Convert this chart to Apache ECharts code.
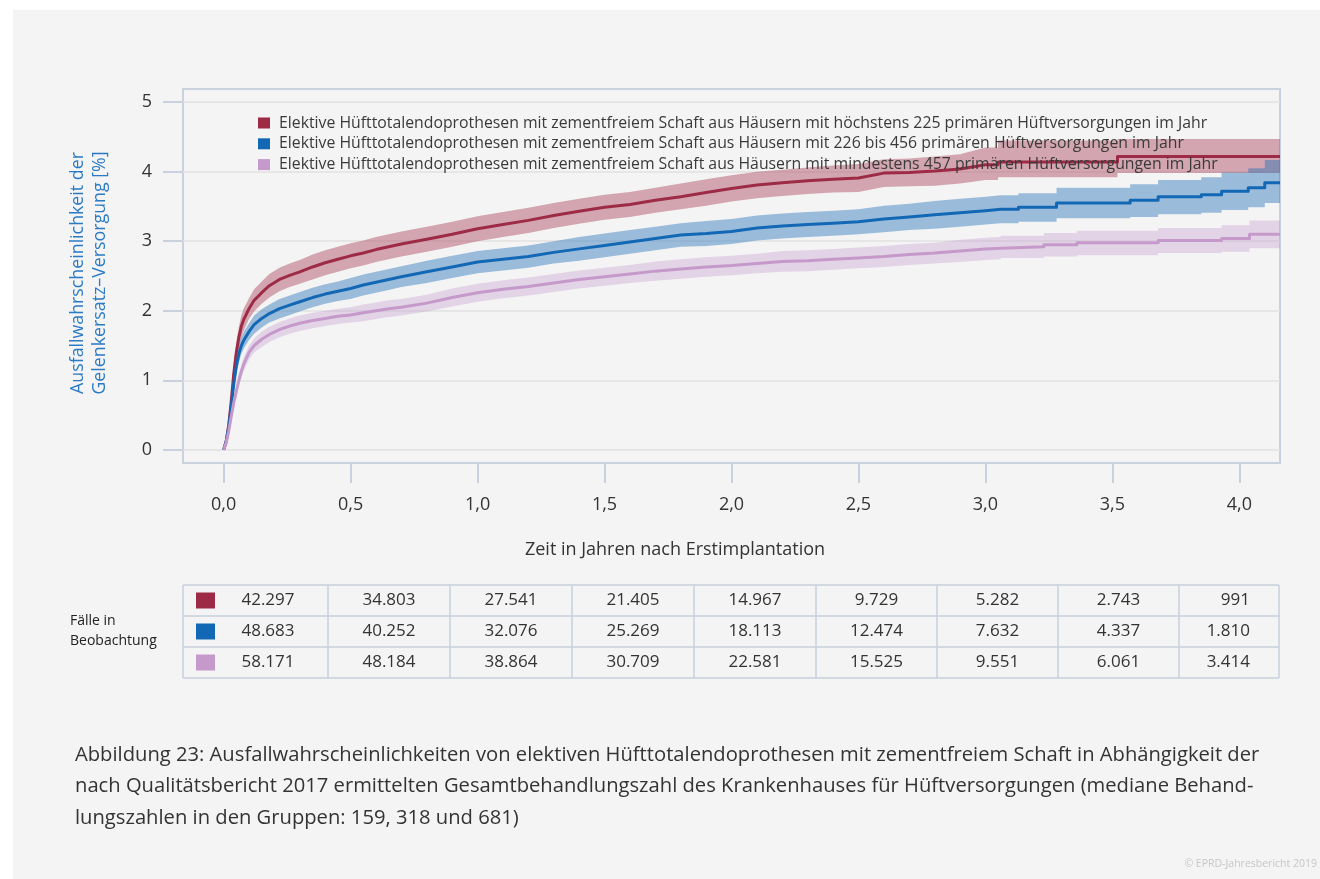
<!DOCTYPE html>
<html>
<head>
<meta charset="utf-8">
<script src="https://cdn.jsdelivr.net/npm/echarts@6/dist/echarts.min.js"></script>
<style>
  html, body { margin: 0; padding: 0; background: #fff; }
  #chart {
    width: 1320px; height: 879px;
    background: linear-gradient(#f4f4f4, #f4f4f4) 13px 10px / 1307px 869px no-repeat, #fff;
  }
</style>
</head>
<body>
<div id="chart"></div>
<script>
  // Jahre nach Erstimplantation, gemeinsamer Teil bis 3,0 Jahre
  const baseYears = [0, 0.01, 0.02, 0.03, 0.04, 0.05, 0.06, 0.07, 0.08, 0.10,
    0.12, 0.15, 0.18, 0.22, 0.26, 0.30, 0.35, 0.40, 0.45, 0.50,
    0.55, 0.60, 0.65, 0.70, 0.80, 0.90, 1.00, 1.10, 1.20, 1.30,
    1.40, 1.50, 1.60, 1.70, 1.80, 1.90, 2.00, 2.10, 2.20, 2.30,
    2.40, 2.50, 2.60, 2.70, 2.80, 2.90, 3.00]

  // höchstens 225 Versorgungen
  const lowRisk = [0, 0.12, 0.35, 0.70, 1.10, 1.40, 1.62, 1.78, 1.88, 2.03,
    2.15, 2.26, 2.36, 2.45, 2.51, 2.56, 2.63, 2.69, 2.74, 2.79,
    2.83, 2.88, 2.92, 2.96, 3.03, 3.10, 3.18, 3.24, 3.30, 3.37,
    3.43, 3.49, 3.53, 3.59, 3.64, 3.70, 3.76, 3.81, 3.84, 3.87,
    3.89, 3.91, 3.98, 3.99, 4.01, 4.04, 4.10]
  const lowLower = [0, 0.08, 0.26, 0.58, 0.96, 1.25, 1.47, 1.62, 1.72, 1.88,
    1.99, 2.10, 2.19, 2.28, 2.34, 2.39, 2.45, 2.51, 2.56, 2.61,
    2.65, 2.70, 2.74, 2.78, 2.85, 2.92, 3.00, 3.06, 3.12, 3.19,
    3.25, 3.31, 3.35, 3.41, 3.46, 3.51, 3.57, 3.62, 3.65, 3.68,
    3.70, 3.71, 3.78, 3.79, 3.80, 3.83, 3.88]
  const lowUpper = [0, 0.16, 0.44, 0.82, 1.24, 1.55, 1.77, 1.94, 2.04, 2.18,
    2.31, 2.42, 2.53, 2.62, 2.68, 2.73, 2.81, 2.87, 2.92, 2.97,
    3.01, 3.06, 3.10, 3.14, 3.21, 3.28, 3.36, 3.42, 3.48, 3.55,
    3.61, 3.67, 3.71, 3.77, 3.83, 3.89, 3.95, 4.00, 4.03, 4.06,
    4.09, 4.11, 4.18, 4.19, 4.22, 4.25, 4.35]
  const lowTailYears = [3.05, 3.05, 3.52, 3.52, 4.16]
  const lowTailRisk = [4.10, 4.14, 4.14, 4.22, 4.22]
  const lowTailLower = [3.88, 3.92, 3.92, 3.98, 3.98]
  const lowTailUpper = [4.35, 4.45, 4.45, 4.47, 4.47]

  // 226 bis 456 Versorgungen
  const midRisk = [0, 0.12, 0.33, 0.62, 0.95, 1.20, 1.38, 1.50, 1.58, 1.70,
    1.80, 1.89, 1.96, 2.03, 2.08, 2.13, 2.19, 2.24, 2.28, 2.32,
    2.37, 2.41, 2.45, 2.49, 2.56, 2.63, 2.70, 2.74, 2.78, 2.84,
    2.89, 2.94, 2.99, 3.04, 3.09, 3.11, 3.14, 3.19, 3.22, 3.24,
    3.26, 3.28, 3.32, 3.35, 3.38, 3.41, 3.44]
  const midLower = [0, 0.09, 0.27, 0.54, 0.85, 1.09, 1.26, 1.38, 1.46, 1.58,
    1.67, 1.76, 1.83, 1.89, 1.94, 1.99, 2.05, 2.10, 2.14, 2.17,
    2.22, 2.26, 2.30, 2.34, 2.40, 2.47, 2.54, 2.58, 2.62, 2.68,
    2.72, 2.77, 2.82, 2.87, 2.92, 2.93, 2.96, 3.01, 3.04, 3.06,
    3.08, 3.10, 3.13, 3.16, 3.18, 3.21, 3.24]
  const midUpper = [0, 0.15, 0.39, 0.70, 1.05, 1.31, 1.50, 1.62, 1.70, 1.82,
    1.93, 2.02, 2.09, 2.17, 2.22, 2.27, 2.33, 2.38, 2.42, 2.47,
    2.52, 2.56, 2.60, 2.64, 2.72, 2.79, 2.86, 2.90, 2.94, 3.00,
    3.06, 3.11, 3.16, 3.21, 3.26, 3.29, 3.32, 3.37, 3.40, 3.42,
    3.44, 3.46, 3.51, 3.54, 3.58, 3.61, 3.64]
  const midTailYears = [3.06, 3.13, 3.13, 3.28, 3.28, 3.57, 3.57, 3.68, 3.68, 3.85,
    3.85, 3.93, 3.93, 4.035, 4.035, 4.10, 4.10, 4.16]
  const midTailRisk = [3.46, 3.46, 3.49, 3.49, 3.55, 3.55, 3.59, 3.59, 3.64, 3.64,
    3.67, 3.67, 3.72, 3.72, 3.77, 3.77, 3.84, 3.84]
  const midTailLower = [3.26, 3.26, 3.28, 3.28, 3.33, 3.33, 3.35, 3.35, 3.39, 3.39,
    3.41, 3.41, 3.45, 3.45, 3.49, 3.49, 3.55, 3.55]
  const midTailUpper = [3.66, 3.66, 3.69, 3.69, 3.77, 3.77, 3.82, 3.82, 3.88, 3.88,
    3.92, 3.92, 3.99, 3.99, 4.05, 4.05, 4.17, 4.17]

  // mindestens 457 Versorgungen
  const highRisk = [0, 0.10, 0.27, 0.48, 0.68, 0.84, 1.00, 1.13, 1.24, 1.40,
    1.50, 1.59, 1.66, 1.73, 1.78, 1.82, 1.86, 1.89, 1.92, 1.94,
    1.97, 2.00, 2.03, 2.05, 2.11, 2.19, 2.26, 2.31, 2.35, 2.40,
    2.45, 2.49, 2.53, 2.57, 2.60, 2.63, 2.65, 2.68, 2.71, 2.72,
    2.74, 2.76, 2.78, 2.81, 2.83, 2.86, 2.89]
  const highLower = [0, 0.07, 0.22, 0.42, 0.61, 0.76, 0.91, 1.04, 1.14, 1.30,
    1.40, 1.48, 1.55, 1.62, 1.67, 1.71, 1.75, 1.78, 1.81, 1.83,
    1.85, 1.88, 1.91, 1.93, 1.99, 2.06, 2.13, 2.18, 2.22, 2.27,
    2.32, 2.36, 2.40, 2.43, 2.46, 2.49, 2.51, 2.54, 2.56, 2.57,
    2.59, 2.61, 2.63, 2.66, 2.68, 2.70, 2.73]
  const highUpper = [0, 0.13, 0.32, 0.54, 0.75, 0.92, 1.09, 1.22, 1.34, 1.50,
    1.60, 1.70, 1.77, 1.84, 1.89, 1.93, 1.97, 2.00, 2.03, 2.05,
    2.09, 2.12, 2.15, 2.17, 2.23, 2.32, 2.39, 2.44, 2.48, 2.53,
    2.58, 2.62, 2.66, 2.71, 2.74, 2.77, 2.79, 2.82, 2.86, 2.87,
    2.89, 2.91, 2.93, 2.96, 2.98, 3.02, 3.05]
  const highTailYears = [3.06, 3.06, 3.23, 3.23, 3.36, 3.36, 3.68, 3.68, 3.93, 3.93, 4.04, 4.04, 4.16]
  const highTailRisk = [2.90, 2.92, 2.92, 2.95, 2.95, 2.98, 2.98, 3.01, 3.01, 3.04, 3.04, 3.10, 3.10]
  const highTailLower = [2.74, 2.76, 2.76, 2.78, 2.78, 2.80, 2.80, 2.83, 2.83, 2.85, 2.85, 2.90, 2.90]
  const highTailUpper = [3.06, 3.08, 3.08, 3.12, 3.12, 3.15, 3.15, 3.19, 3.19, 3.23, 3.23, 3.30, 3.30]

  // Fälle in Beobachtung
  const casesLow = ['42.297', '34.803', '27.541', '21.405', '14.967', '9.729', '5.282', '2.743', '991']
  const casesMid = ['48.683', '40.252', '32.076', '25.269', '18.113', '12.474', '7.632', '4.337', '1.810']
  const casesHigh = ['58.171', '48.184', '38.864', '30.709', '22.581', '15.525', '9.551', '6.061', '3.414']

  const xTicks = [0, 0.5, 1, 1.5, 2, 2.5, 3, 3.5, 4]
  const yTicks = [0, 1, 2, 3, 4, 5]

  const groupNames = [
    'Elektive Hüfttotalendoprothesen mit zementfreiem Schaft aus Häusern mit höchstens 225 primären Hüftversorgungen im Jahr',
    'Elektive Hüfttotalendoprothesen mit zementfreiem Schaft aus Häusern mit 226 bis 456 primären Hüftversorgungen im Jahr',
    'Elektive Hüfttotalendoprothesen mit zementfreiem Schaft aus Häusern mit mindestens 457 primären Hüftversorgungen im Jahr'
  ]

  const FONT = '"Open Sans"'
  const TXT = '#333333'
  const AXIS = '#c8d1dd'
  const lineColors = ['#9e2b46', '#1368b5', '#c59acb']
  const bandColors = ['rgba(160,48,74,0.4)', 'rgba(19,104,180,0.4)', 'rgba(196,150,202,0.35)']

  const groups = [
    { t: baseYears.concat(lowTailYears), v: lowRisk.concat(lowTailRisk),
      lo: lowLower.concat(lowTailLower), up: lowUpper.concat(lowTailUpper) },
    { t: baseYears.concat(midTailYears), v: midRisk.concat(midTailRisk),
      lo: midLower.concat(midTailLower), up: midUpper.concat(midTailUpper) },
    { t: baseYears.concat(highTailYears), v: highRisk.concat(highTailRisk),
      lo: highLower.concat(highTailLower), up: highUpper.concat(highTailUpper) }
  ]

  // Konfidenzband als Polygon
  function band (g, color) {
    return {
      type: 'custom',
      silent: true,
      z: 1,
      data: [[g.t[0], g.lo[0]]],
      encode: { x: 0, y: 1 },
      renderItem: function (params, api) {
        const pts = []
        for (let i = 0; i < g.t.length; i++) pts.push(api.coord([g.t[i], g.up[i]]))
        for (let i = g.t.length - 1; i >= 0; i--) pts.push(api.coord([g.t[i], g.lo[i]]))
        return { type: 'polygon', shape: { points: pts }, style: { fill: color } }
      }
    }
  }

  function curve (name, g, color) {
    return {
      type: 'line',
      name: name,
      showSymbol: false,
      z: 3,
      itemStyle: { color: color },
      lineStyle: { color: color, width: 3, join: 'round' },
      data: g.t.map((t, i) => [t, g.v[i]])
    }
  }

  // Tabelle
  const colEdges = [183, 328, 450, 572, 694, 816, 937, 1058, 1179, 1279]
  const rowEdges = [585, 616, 647, 678]
  const tableGraphics = []
  rowEdges.forEach(y => {
    tableGraphics.push({ type: 'line', shape: { x1: colEdges[0], y1: y, x2: colEdges[colEdges.length - 1], y2: y },
      style: { stroke: AXIS, lineWidth: 1.5 } })
  })
  colEdges.forEach(x => {
    tableGraphics.push({ type: 'line', shape: { x1: x, y1: rowEdges[0], x2: x, y2: rowEdges[3] },
      style: { stroke: AXIS, lineWidth: 1.5 } })
  })
  ;[casesLow, casesMid, casesHigh].forEach((row, r) => {
    const cy = (rowEdges[r] + rowEdges[r + 1]) / 2
    tableGraphics.push({ type: 'rect', shape: { x: 196, y: cy - 8, width: 19, height: 16 },
      style: { fill: lineColors[r] } })
    row.forEach((v, c) => {
      let x, align
      if (c === 0) { x = 268; align = 'center' }
      else if (c === row.length - 1) { x = 1250; align = 'right' }
      else { x = (colEdges[c] + colEdges[c + 1]) / 2; align = 'center' }
      tableGraphics.push({ type: 'text', x: x, y: cy,
        style: { text: v, font: '17px ' + FONT, fill: TXT, align: align, verticalAlign: 'middle' } })
    })
  })
  tableGraphics.push({ type: 'text', x: 70, y: 631,
    style: { text: 'Fälle in\nBeobachtung', font: '14px ' + FONT, fill: '#222', lineHeight: 20, verticalAlign: 'middle' } })

  const captionLines = [
    'Abbildung 23: Ausfallwahrscheinlichkeiten von elektiven Hüfttotalendoprothesen mit zementfreiem Schaft in Abhängigkeit der',
    'nach Qualitätsbericht 2017 ermittelten Gesamtbehandlungszahl des Krankenhauses für Hüftversorgungen (mediane Behand-',
    'lungszahlen in den Gruppen: 159, 318 und 681)'
  ]

  const myChart = echarts.init(document.getElementById('chart'), null, { renderer: 'canvas' })
  myChart.setOption({
    animation: false,
    backgroundColor: 'transparent',
    textStyle: { fontFamily: FONT },
    grid: {
      left: 183, right: 40, top: 89, bottom: 416,
      show: true, borderColor: AXIS, borderWidth: 2, backgroundColor: 'transparent'
    },
    legend: {
      data: groupNames,
      orient: 'vertical',
      left: 253, top: 110,
      itemWidth: 12, itemHeight: 11, itemGap: 4.8,
      icon: 'rect',
      selectedMode: false,
      textStyle: { fontSize: 15.8, color: '#3a3a3a', fontFamily: FONT, lineHeight: 13, padding: [0, 0, 0, 4] }
    },
    xAxis: {
      type: 'value',
      min: -0.16, max: 4.16,
      axisLine: { show: false, onZero: false },
      axisTick: { show: true, length: 20, customValues: xTicks, lineStyle: { color: AXIS, width: 2 } },
      axisLabel: { customValues: xTicks, margin: 33, fontSize: 18, color: TXT, fontFamily: FONT,
        formatter: v => v.toFixed(1).replace('.', ',') },
      splitLine: { show: false }
    },
    yAxis: {
      type: 'value',
      min: -0.19, max: 5.19,
      axisLine: { show: false, onZero: false },
      axisTick: { show: true, length: 20, customValues: yTicks, lineStyle: { color: AXIS, width: 2 } },
      axisLabel: { customValues: yTicks, margin: 31, fontSize: 18, color: TXT, fontFamily: FONT },
      splitLine: { show: true, lineStyle: { color: '#e2e2e2', width: 1.5 } }
    },
    graphic: [
      { type: 'text', x: 89, y: 273, rotation: Math.PI / 2,
        style: { text: 'Ausfallwahrscheinlichkeit der\nGelenkersatz–Versorgung [%]', font: '17.8px ' + FONT,
          fill: '#2a7ac6', align: 'center', verticalAlign: 'middle', lineHeight: 22 } },
      { type: 'text', x: 675, y: 550,
        style: { text: 'Zeit in Jahren nach Erstimplantation', font: '18px ' + FONT, fill: TXT,
          align: 'center', verticalAlign: 'middle' } },
      ...tableGraphics,
      ...captionLines.map((t, i) => ({ type: 'text', x: 75, y: 755 + i * 31.5,
        style: { text: t, font: '20.2px ' + FONT, fill: TXT, verticalAlign: 'middle' } })),
      { type: 'text', x: 1317, y: 864,
        style: { text: '© EPRD-Jahresbericht 2019', font: '10.5px ' + FONT, fill: '#c6c6c6',
          align: 'right', verticalAlign: 'middle' } }
    ],
    series: [
      band(groups[0], bandColors[0]),
      band(groups[1], bandColors[1]),
      band(groups[2], bandColors[2]),
      curve(groupNames[0], groups[0], lineColors[0]),
      curve(groupNames[1], groups[1], lineColors[1]),
      curve(groupNames[2], groups[2], lineColors[2])
    ]
  })
</script>
</body>
</html>
